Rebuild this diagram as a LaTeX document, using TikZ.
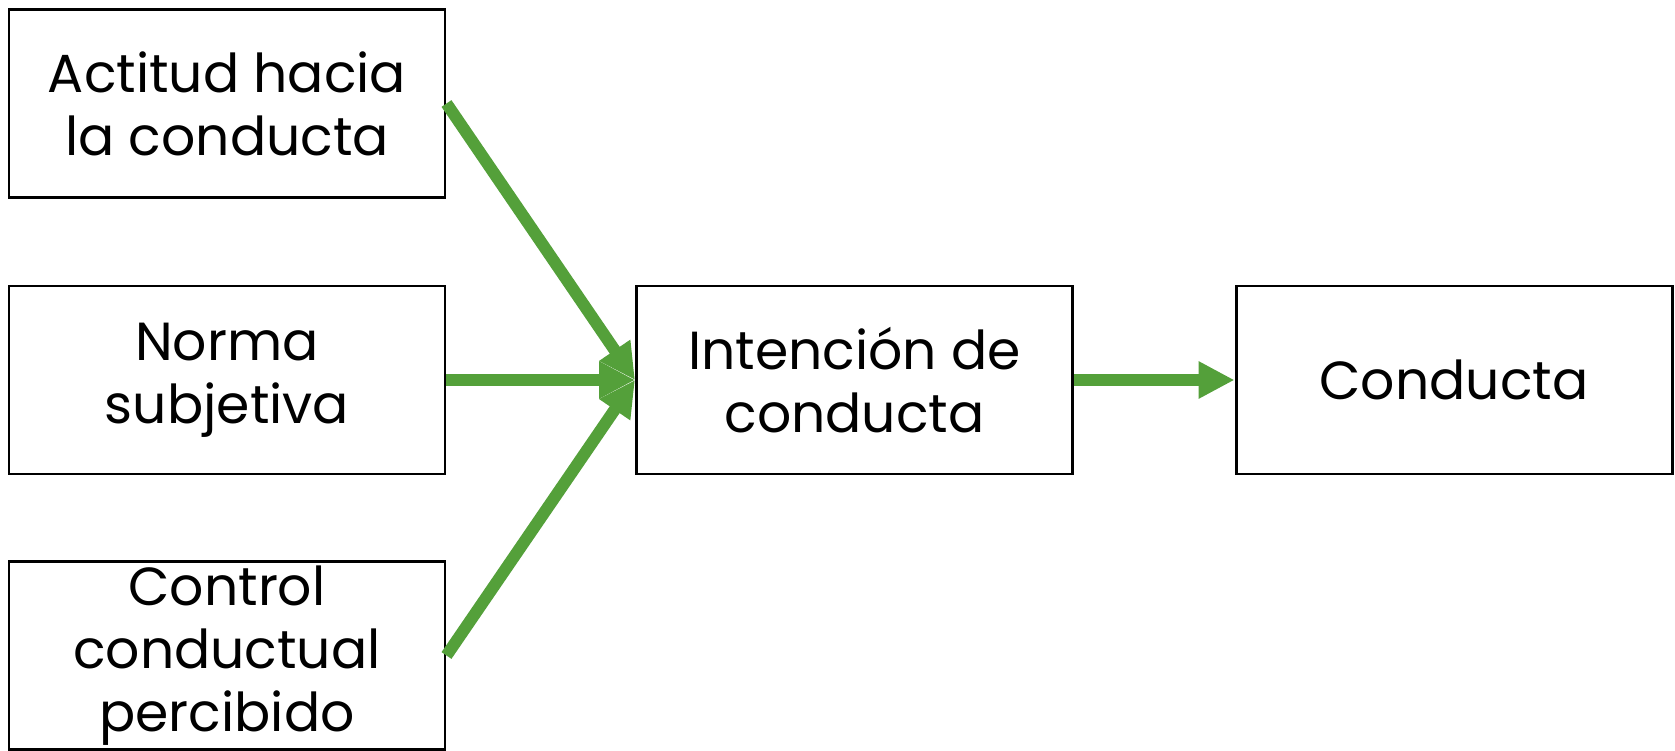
\documentclass[tikz,border=0pt]{standalone}
\usepackage{fontspec}
\setmainfont{Poppins}
\usetikzlibrary{arrows.meta}
\begin{document}
\begin{tikzpicture}[
  caja/.style={draw=black,line width=1.7pt,minimum width=8.72cm,minimum height=3.76cm,inner sep=0pt,align=center,font=\fontsize{30.5}{36}\selectfont},
  flecha/.style={color=verdeflecha,line width=0.24cm,-{Triangle[length=0.72cm,width=0.7cm]}}]
\definecolor{verdeflecha}{RGB}{84,160,58}
\useasboundingbox (0,0) rectangle (33.5,15);
\node[caja] (actitud) at (4.54,12.93) {Actitud hacia\\la conducta};
\node[caja] (norma) at (4.54,7.4) {Norma\\subjetiva};
\node[caja] (control) at (4.54,1.89) {Control\\conductual\\percibido};
\node[caja] (intencion) at (17.09,7.4) {Intención de\\conducta};
\node[caja] (conducta) at (29.08,7.4) {Conducta};
\draw [flecha] (actitud.east) -- (intencion.west);
\draw [flecha] (norma.east) -- (intencion.west);
\draw [flecha] (control.east) -- (intencion.west);
\draw [flecha] (intencion.east) -- (conducta.west);
\end{tikzpicture}
\end{document}
